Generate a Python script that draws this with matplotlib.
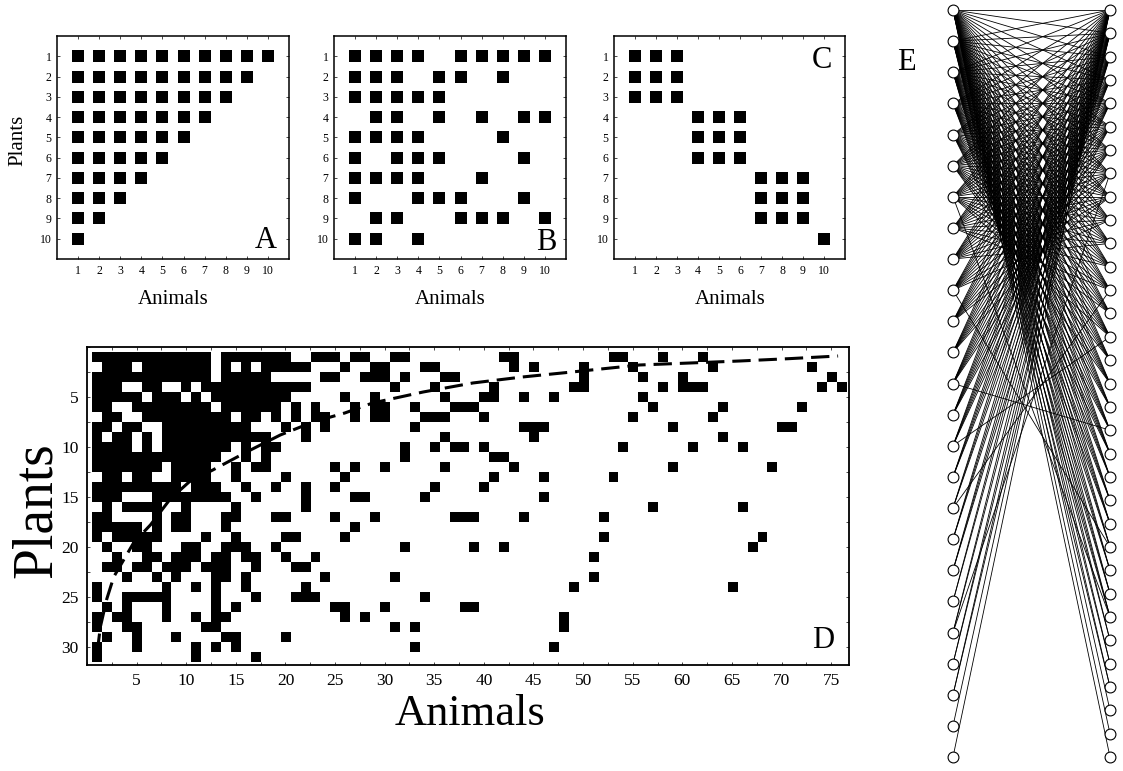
import numpy as np
import matplotlib
matplotlib.use("Agg")
import matplotlib.pyplot as plt
from matplotlib.collections import LineCollection
from matplotlib.ticker import MultipleLocator

plt.rcParams['font.family'] = ['Liberation Serif', 'DejaVu Serif']

W, H = 1123, 771

# ---- panel A: perfectly nested (animals used by each plant)
a_rows = [
    [1, 2, 3, 4, 5, 6, 7, 8, 9, 10],
    [1, 2, 3, 4, 5, 6, 7, 8, 9],
    [1, 2, 3, 4, 5, 6, 7, 8],
    [1, 2, 3, 4, 5, 6, 7],
    [1, 2, 3, 4, 5, 6],
    [1, 2, 3, 4, 5],
    [1, 2, 3, 4],
    [1, 2, 3],
    [1, 2],
    [1],
]

# ---- panel B: random
b_rows = [
    [1, 2, 3, 4, 6, 7, 8, 9, 10],
    [1, 2, 3, 5, 6, 8],
    [1, 2, 3, 4, 5],
    [2, 3, 5, 7, 9, 10],
    [1, 2, 3, 4, 8],
    [1, 3, 4, 5, 9],
    [1, 2, 3, 4, 7],
    [1, 4, 5, 6, 9],
    [2, 3, 6, 7, 8, 10],
    [1, 2, 4],
]

# ---- panel C: compartments
c_rows = [
    [1, 2, 3], [1, 2, 3], [1, 2, 3],
    [4, 5, 6], [4, 5, 6], [4, 5, 6],
    [7, 8, 9], [7, 8, 9], [7, 8, 9],
    [10],
]

# ---- panel D: real plant x animal matrix (31 plants, 76 animals)
d_rows = [
    [1, 2, 3, 4, 5, 6, 7, 8, 9, 10, 11, 12, 14, 15, 16, 17, 18, 19, 20, 23, 24, 25, 27, 28, 31, 32, 42, 43, 53, 54, 58, 62],
    [2, 3, 4, 6, 7, 8, 9, 10, 11, 12, 14, 16, 18, 19, 20, 21, 22, 26, 29, 30, 34, 35, 43, 45, 50, 55, 63, 73],
    [1, 2, 3, 4, 5, 6, 7, 8, 9, 10, 11, 12, 14, 15, 16, 17, 18, 24, 25, 28, 29, 30, 32, 36, 37, 50, 56, 60, 75],
    [1, 2, 3, 6, 7, 10, 12, 13, 14, 15, 16, 17, 18, 19, 20, 21, 22, 31, 35, 41, 49, 50, 58, 60, 61, 62, 74, 76],
    [1, 2, 3, 4, 5, 7, 8, 9, 11, 13, 14, 15, 16, 17, 18, 19, 20, 26, 29, 36, 40, 41, 44, 47, 56],
    [1, 2, 5, 6, 7, 8, 9, 10, 11, 12, 14, 15, 16, 17, 18, 19, 21, 23, 27, 29, 30, 33, 37, 38, 39, 57, 64, 72],
    [2, 3, 6, 7, 8, 9, 10, 11, 12, 13, 14, 16, 17, 19, 21, 23, 24, 27, 29, 30, 34, 35, 36, 40, 55, 63],
    [1, 2, 4, 5, 8, 9, 10, 11, 12, 13, 14, 15, 16, 20, 22, 24, 33, 44, 45, 46, 59, 70, 71],
    [1, 3, 4, 6, 8, 9, 10, 11, 12, 13, 14, 15, 16, 17, 18, 22, 36, 45, 64],
    [1, 2, 3, 4, 6, 8, 9, 10, 11, 12, 13, 14, 16, 18, 19, 32, 35, 37, 38, 40, 54, 61, 66],
    [1, 2, 3, 4, 5, 6, 7, 8, 9, 10, 11, 12, 13, 16, 18, 32, 41, 42],
    [1, 2, 3, 4, 5, 6, 7, 9, 10, 11, 12, 15, 17, 18, 25, 27, 30, 36, 43, 59, 69],
    [2, 3, 5, 6, 9, 10, 11, 12, 15, 20, 26, 41, 46, 53],
    [1, 2, 3, 4, 5, 6, 7, 8, 9, 11, 12, 13, 16, 19, 22, 25, 35, 40],
    [1, 2, 3, 7, 8, 9, 10, 11, 12, 13, 14, 17, 22, 27, 28, 34, 46],
    [2, 4, 5, 6, 7, 10, 15, 22, 57, 66],
    [1, 2, 7, 9, 10, 14, 15, 19, 20, 25, 29, 37, 38, 39, 44, 52],
    [1, 2, 3, 4, 5, 7, 9, 10, 14, 27],
    [1, 3, 4, 5, 6, 7, 12, 15, 20, 21, 26, 52, 68],
    [2, 5, 6, 10, 11, 14, 15, 16, 19, 32, 39, 42, 67],
    [3, 6, 7, 9, 10, 11, 13, 14, 16, 17, 20, 23, 51],
    [2, 3, 5, 6, 8, 9, 10, 12, 13, 14, 17, 21, 22],
    [4, 7, 9, 13, 14, 16, 24, 31, 51],
    [1, 8, 11, 13, 16, 22, 49, 65],
    [1, 4, 5, 6, 7, 8, 13, 17, 21, 22, 23, 34],
    [2, 4, 8, 13, 15, 25, 26, 30, 38, 39],
    [1, 3, 4, 8, 11, 13, 14, 26, 28, 48],
    [1, 4, 5, 12, 13, 31, 33, 48],
    [2, 5, 9, 14, 15, 20],
    [1, 5, 11, 13, 15, 33, 47],
    [1, 11, 17],
]
n_plants_d, n_animals_d = 31, 76

# dashed isocline of perfect nestedness (animal, plant)
iso_x = [1.0, 1.16, 1.35, 2.0, 2.7, 3.7, 4.7, 6.4, 8.4, 10.3, 12.7, 16.1, 19.5,
         22.8, 26.0, 28.8, 33.9, 38.9, 43.9, 48.9, 55.7, 60.8, 65.8, 70.9, 75.7]
iso_y = [30.5, 29.5, 28.0, 25.2, 23.0, 21.3, 19.6, 17.8, 15.2, 13.5, 12.3, 10.5, 8.8,
         7.5, 6.6, 5.6, 4.5, 3.6, 3.0, 2.5, 1.8, 1.6, 1.4, 1.16, 0.9]

# ---- panel E: bipartite graph, degree of each plant (nested links)
e_plant_degree = [33, 30, 27, 23, 20, 17, 15, 13, 11, 10, 9, 8, 7,
                  6, 5, 4, 3, 3, 3, 2, 2, 2, 2, 1, 1]
e_n_animals = 33
# a few links that break the nested order (plant, animal)
e_extra_links = [(12, 18), (16, 12), (14, 14), (9, 23), (6, 26), (20, 7)]


def px_axes(fig, left, top, right, bottom):
    return fig.add_axes([left / W, 1 - bottom / H, (right - left) / W, (bottom - top) / H])


def fig_text(fig, x, y, s, **kw):
    fig.text(x / W, 1 - y / H, s, ha='center', va='center', **kw)


fig = plt.figure(figsize=(W / 100, H / 100), dpi=100)


def small_matrix(ax, rows):
    for i, cols in enumerate(rows):
        ax.scatter(cols, [i + 1] * len(cols), marker='s', s=74, c='black', linewidths=0)
    ax.set_xlim(0, 11)
    ax.set_ylim(11, 0)
    ax.set_xticks(range(1, 11))
    ax.set_yticks(range(1, 11))
    ax.tick_params(direction='in', length=2, width=0.5, labelsize=8.5, pad=4,
                   top=True, right=True)
    for sp in ax.spines.values():
        sp.set_linewidth(1.1)


axA = px_axes(fig, 57, 36, 289, 259)
small_matrix(axA, a_rows)
axB = px_axes(fig, 334, 36, 566, 259)
small_matrix(axB, b_rows)
axC = px_axes(fig, 614, 36, 845, 259)
small_matrix(axC, c_rows)

fig_text(fig, 18, 140, 'Plants', fontsize=15, rotation=90)
for cx in [173, 450, 730]:
    fig_text(fig, cx, 300, 'Animals', fontsize=15)
fig_text(fig, 266, 241, 'A', fontsize=22)
fig_text(fig, 546, 243, 'B', fontsize=22)
fig_text(fig, 822, 60, 'C', fontsize=22)

# ---- D
axD = px_axes(fig, 87, 347, 849, 665)
mat = np.zeros((n_plants_d, n_animals_d))
for i, cols in enumerate(d_rows):
    for c in cols:
        mat[i, c - 1] = 1
axD.imshow(mat, cmap='binary', interpolation='nearest', aspect='auto',
           extent=(0.5, n_animals_d + 0.5, n_plants_d + 0.5, 0.5), vmin=0, vmax=1)
axD.plot(iso_x, iso_y, color='black', lw=2.2, dashes=(6, 2.6))
axD.set_xlim(0, 76.8)
axD.set_ylim(31.83, 0)
axD.set_xticks(range(5, 76, 5))
axD.set_yticks(range(5, 31, 5))
axD.xaxis.set_minor_locator(MultipleLocator(2.5))
axD.yaxis.set_minor_locator(MultipleLocator(2.5))
axD.tick_params(which='both', direction='in', length=2, width=0.5, top=True, right=True)
axD.tick_params(labelsize=12.5, pad=6)
for sp in axD.spines.values():
    sp.set_linewidth(1.3)
fig_text(fig, 823, 640, 'D', fontsize=22)
fig_text(fig, 37, 510, 'Plants', fontsize=40, rotation=90)
fig_text(fig, 470, 714, 'Animals', fontsize=32)

# ---- E
axE = px_axes(fig, 938, 0, 1123, 771)
y_left = np.arange(len(e_plant_degree))
y_right = np.arange(e_n_animals) * (len(e_plant_degree) - 1) / (e_n_animals - 1)
segs = []
for i, deg in enumerate(e_plant_degree):
    for j in range(deg):
        segs.append([(0, y_left[i]), (1, y_right[j])])
for i, j in e_extra_links:
    segs.append([(0, y_left[i]), (1, y_right[j])])
axE.add_collection(LineCollection(segs, colors='black', linewidths=0.6))
axE.plot(np.zeros(len(y_left)), y_left, 'o', ms=7.8, mfc='white', mec='black', mew=0.8)
axE.plot(np.ones(len(y_right)), y_right, 'o', ms=7.8, mfc='white', mec='black', mew=0.8)
axE.set_xlim(-15 / 157, 1 + 13 / 157)
axE.set_ylim(24 + 14 / 31.125, -10 / 31.125)
axE.axis('off')
fig_text(fig, 906, 62, 'E', fontsize=22)

fig.savefig('out.png', dpi=100)
